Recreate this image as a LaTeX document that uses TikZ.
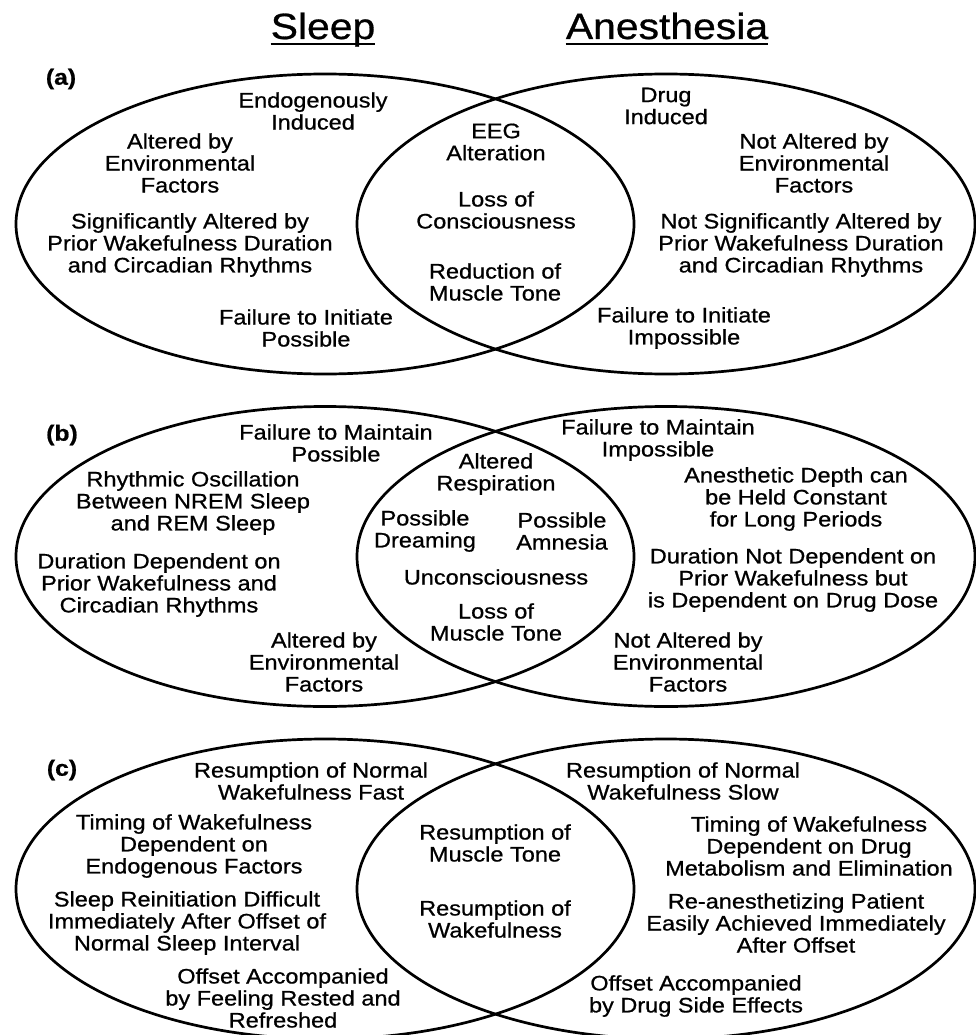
\documentclass[tikz,border=0pt]{standalone}
\usepackage{fontspec}
\setmainfont[FakeStretch=1.12, FakeBold=0.8]{Liberation Sans}
\usepackage{tikz}
\usetikzlibrary{shapes.geometric}
\tikzset{
    set/.style={
        ellipse, draw, line width=2.7pt,
        minimum width=618, minimum height=300, inner sep=0
    },
    fact/.style={align=center, inner sep=0, font=\fontsize{21}{22}\selectfont},
    tag/.style={inner sep=0, font=\bfseries\fontsize{22}{24}\selectfont},
    heading/.style={inner sep=0, anchor=base, font=\fontsize{36.5}{40}\selectfont},
    rule/.style={line width=2pt}
}
\begin{document}
\begin{tikzpicture}[x=1pt, y=-1pt]
        \useasboundingbox (0,0) rectangle (976,1035);

        % Headings
        \node [heading] (sleep) at (323, 39) {Sleep};
        \node [heading] (anes) at (667, 39) {Anesthesia};
        \draw [rule] ([yshift=-5]sleep.base west) -- ([yshift=-5]sleep.base east);
        \draw [rule] ([yshift=-5]anes.base west) -- ([yshift=-5]anes.base east);

        % (a) onset
        \node [set] (sleepA) at (325, 224) {};
        \node [set] (anesA) at (666, 224) {};
        \node [tag] (a) at (61, 79) {(a)};
        \node [fact] (endo) at (313, 111) {Endogenously\\Induced};
        \node [fact] (envA) at (180, 163) {Altered by\\Environmental\\Factors};
        \node [fact] (wakeA) at (190, 245) {Significantly Altered by\\Prior Wakefulness Duration\\and Circadian Rhythms};
        \node [fact] (initA) at (306, 328) {Failure to Initiate\\Possible};
        \node [fact] (eeg) at (496, 142) {EEG\\Alteration};
        \node [fact] (loc) at (496, 210) {Loss of\\Consciousness};
        \node [fact] (toneA) at (495, 282) {Reduction of\\Muscle Tone};
        \node [fact] (drug) at (666, 106) {Drug\\Induced};
        \node [fact] (noenvA) at (814, 163) {Not Altered by\\Environmental\\Factors};
        \node [fact] (nowakeA) at (801, 245) {Not Significantly Altered by\\Prior Wakefulness Duration\\and Circadian Rhythms};
        \node [fact] (noinitA) at (684, 328) {Failure to Initiate\\Impossible};

        % (b) maintenance
        \node [set] (sleepB) at (325, 556.5) {};
        \node [set] (anesB) at (666, 556.5) {};
        \node [tag] (b) at (62, 435) {(b)};
        \node [fact] (maint) at (336, 443) {Failure to Maintain\\Possible};
        \node [fact] (rhythm) at (193, 503) {Rhythmic Oscillation\\Between NREM Sleep\\and REM Sleep};
        \node [fact] (durB) at (159, 585) {Duration Dependent on\\Prior Wakefulness and\\Circadian Rhythms};
        \node [fact] (envB) at (324, 662) {Altered by\\Environmental\\Factors};
        \node [fact] (resp) at (496, 474) {Altered\\Respiration};
        \node [fact] (dream) at (425, 531) {Possible\\Dreaming};
        \node [fact] (amnes) at (562, 531) {Possible\\Amnesia};
        \node [fact] (uncon) at (496, 577) {Unconsciousness};
        \node [fact] (toneB) at (496, 622) {Loss of\\Muscle Tone};
        \node [fact] (nomaint) at (658, 440) {Failure to Maintain\\Impossible};
        \node [fact] (depth) at (796, 499) {Anesthetic Depth can\\be Held Constant\\for Long Periods};
        \node [fact] (dose) at (793, 580) {Duration Not Dependent on\\Prior Wakefulness but\\is Dependent on Drug Dose};
        \node [fact] (noenvB) at (688, 662) {Not Altered by\\Environmental\\Factors};

        % (c) offset
        \node [set] (sleepC) at (325, 889) {};
        \node [set] (anesC) at (666, 889) {};
        \node [tag] (c) at (62, 770) {(c)};
        \node [fact] (fast) at (311, 781) {Resumption of Normal\\Wakefulness Fast};
        \node [fact] (timing) at (194, 846) {Timing of Wakefulness\\Dependent on\\Endogenous Factors};
        \node [fact] (reinit) at (187, 923) {Sleep Reinitiation Difficult\\Immediately After Offset of\\Normal Sleep Interval};
        \node [fact] (rested) at (283, 998) {Offset Accompanied\\by Feeling Rested and\\Refreshed};
        \node [fact] (muscle) at (495, 843) {Resumption of\\Muscle Tone};
        \node [fact] (wake) at (495, 919) {Resumption of\\Wakefulness};
        \node [fact] (slow) at (683, 781) {Resumption of Normal\\Wakefulness Slow};
        \node [fact] (metab) at (809, 846) {Timing of Wakefulness\\Dependent on Drug\\Metabolism and Elimination};
        \node [fact] (reanes) at (796, 923) {Re-anesthetizing Patient\\Easily Achieved Immediately\\After Offset};
        \node [fact] (side) at (696, 996) {Offset Accompanied\\by Drug Side Effects};
    \end{tikzpicture}
\end{document}
